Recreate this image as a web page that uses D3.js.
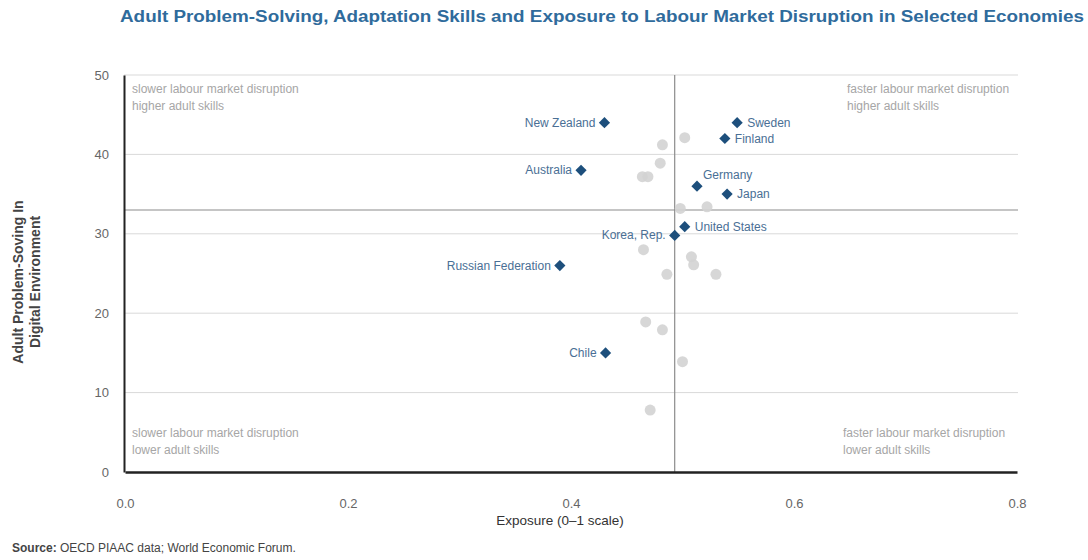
<!DOCTYPE html>
<html><head><meta charset="utf-8">
<script src="https://cdn.jsdelivr.net/npm/d3@7"></script>
<style>
body{margin:0;background:#fff;}
svg{font-family:"Liberation Sans",Arial,sans-serif;}
</style></head>
<body><svg id="c" width="1088" height="560"></svg>
<script>
// ---- data ----
const countries = ["New Zealand","Sweden","Finland","Australia","Germany","Japan","Korea, Rep.","United States","Russian Federation","Chile"];
const exposure  = [0.430,0.549,0.538,0.409,0.513,0.540,0.493,0.502,0.390,0.431];
const skills    = [44,44,42,38,36,35,29.8,30.9,26,15];
const labelSide = ["left","right","right","left","top","right","left","right","left","left"];
const otherExposure = [0.502,0.482,0.480,0.464,0.469,0.498,0.522,0.465,0.508,0.510,0.486,0.530,0.467,0.482,0.500,0.471];
const otherSkills   = [42.1,41.2,38.9,37.2,37.2,33.2,33.4,28,27.1,26.1,24.9,24.9,18.9,17.9,13.9,7.8];
const xTicks = [0,0.2,0.4,0.6,0.8];
const yTicks = [0,10,20,30,40,50];
const refExposure = 0.493, refSkills = 33;
const quadrants = [
  {lines:["slower labour market disruption","higher adult skills"], q:"tl"},
  {lines:["faster labour market disruption","higher adult skills"], q:"tr"},
  {lines:["slower labour market disruption","lower adult skills"], q:"bl"},
  {lines:["faster labour market disruption","lower adult skills"], q:"br"}
];
const title = "Adult Problem-Solving, Adaptation Skills and Exposure to Labour Market Disruption in Selected Economies";

// ---- layout ----
const svg = d3.select("#c");
const L=124, R=1018, T=75, B=472;
const x = d3.scaleLinear().domain([0,0.8]).range([L+1,R-1]);
const y = d3.scaleLinear().domain([0,50]).range([B,T]);

svg.append("text").attr("x",120).attr("y",22).attr("fill","#2f6b9c")
  .attr("font-size",16).attr("font-weight",600)
  .attr("textLength",964).attr("lengthAdjust","spacingAndGlyphs").text(title);

// grid
svg.append("g").selectAll("line").data(yTicks.filter(d=>d>0)).join("line")
  .attr("x1",L).attr("x2",R).attr("y1",d=>y(d)).attr("y2",d=>y(d))
  .attr("stroke","#d9d9d9").attr("stroke-width",1);

// reference lines
svg.append("line").attr("x1",L).attr("x2",R).attr("y1",y(refSkills)).attr("y2",y(refSkills))
  .attr("stroke","#8c8c8c").attr("stroke-width",1.2);
svg.append("line").attr("x1",x(refExposure)).attr("x2",x(refExposure)).attr("y1",T).attr("y2",B)
  .attr("stroke","#8c8c8c").attr("stroke-width",1.2);

// axes
const yAxis = svg.append("g").attr("transform",`translate(${L},0)`)
  .call(d3.axisLeft(y).tickValues(yTicks).tickSize(0).tickPadding(15));
yAxis.select(".domain").attr("stroke","#222").attr("stroke-width",2);
yAxis.selectAll("text").attr("font-size",13).attr("fill","#666").attr("font-family","Liberation Sans, Arial");
const xAxis = svg.append("g").attr("transform",`translate(0,${B})`)
  .call(d3.axisBottom(x).tickValues(xTicks).tickFormat(d3.format(".1f")).tickSize(0).tickPadding(27));
xAxis.select(".domain").attr("stroke","#222").attr("stroke-width",2.5);
xAxis.selectAll("text").attr("font-size",13).attr("fill","#666").attr("font-family","Liberation Sans, Arial");

// axis titles
const yt = svg.append("text").attr("transform","translate(31,282) rotate(-90)")
  .attr("text-anchor","middle").attr("font-size",14).attr("font-weight",600).attr("fill","#444");
yt.append("tspan").attr("x",0).attr("dy",-8).text("Adult Problem-Soving In");
yt.append("tspan").attr("x",0).attr("dy",17).text("Digital Environment");
svg.append("text").attr("x",560).attr("y",525).attr("text-anchor","middle")
  .attr("font-size",13.5).attr("fill","#333").text("Exposure (0–1 scale)");

// source
const src = svg.append("text").attr("x",12).attr("y",552).attr("font-size",12).attr("fill","#444");
src.append("tspan").attr("font-weight","bold").text("Source:");
src.append("tspan").text(" OECD PIAAC data; World Economic Forum.");

// quadrant notes
const qpos = {tl:[132,93],tr:[847,93],bl:[132,437],br:[843,437]};
quadrants.forEach(q=>{
  const t = svg.append("text").attr("font-size",12).attr("fill","#a6a6a6");
  q.lines.forEach((ln,i)=>t.append("tspan").attr("x",qpos[q.q][0]).attr("y",qpos[q.q][1]+i*17).text(ln));
});

// grey points
svg.append("g").selectAll("circle").data(otherExposure.map((e,i)=>[e,otherSkills[i]])).join("circle")
  .attr("cx",d=>x(d[0])).attr("cy",d=>y(d[1])).attr("r",5.5)
  .attr("fill","#d3d3d3").attr("fill-opacity",0.9);

// highlighted diamonds
const sym = d3.symbol().type(d3.symbolDiamond2).size(80);
const pts = countries.map((c,i)=>({c,e:exposure[i],s:skills[i],side:labelSide[i]}));
svg.append("g").selectAll("path").data(pts).join("path")
  .attr("transform",d=>`translate(${x(d.e)},${y(d.s)})`).attr("d",sym).attr("fill","#1d4f7c");
svg.append("g").selectAll("text").data(pts).join("text")
  .attr("x",d=>x(d.e)+(d.side==="left"?-9:d.side==="right"?10:6))
  .attr("y",d=>y(d.s)+(d.side==="top"?-7:4))
  .attr("text-anchor",d=>d.side==="left"?"end":"start")
  .attr("font-size",12).attr("fill","#4a6f95").text(d=>d.c);
</script></body></html>
